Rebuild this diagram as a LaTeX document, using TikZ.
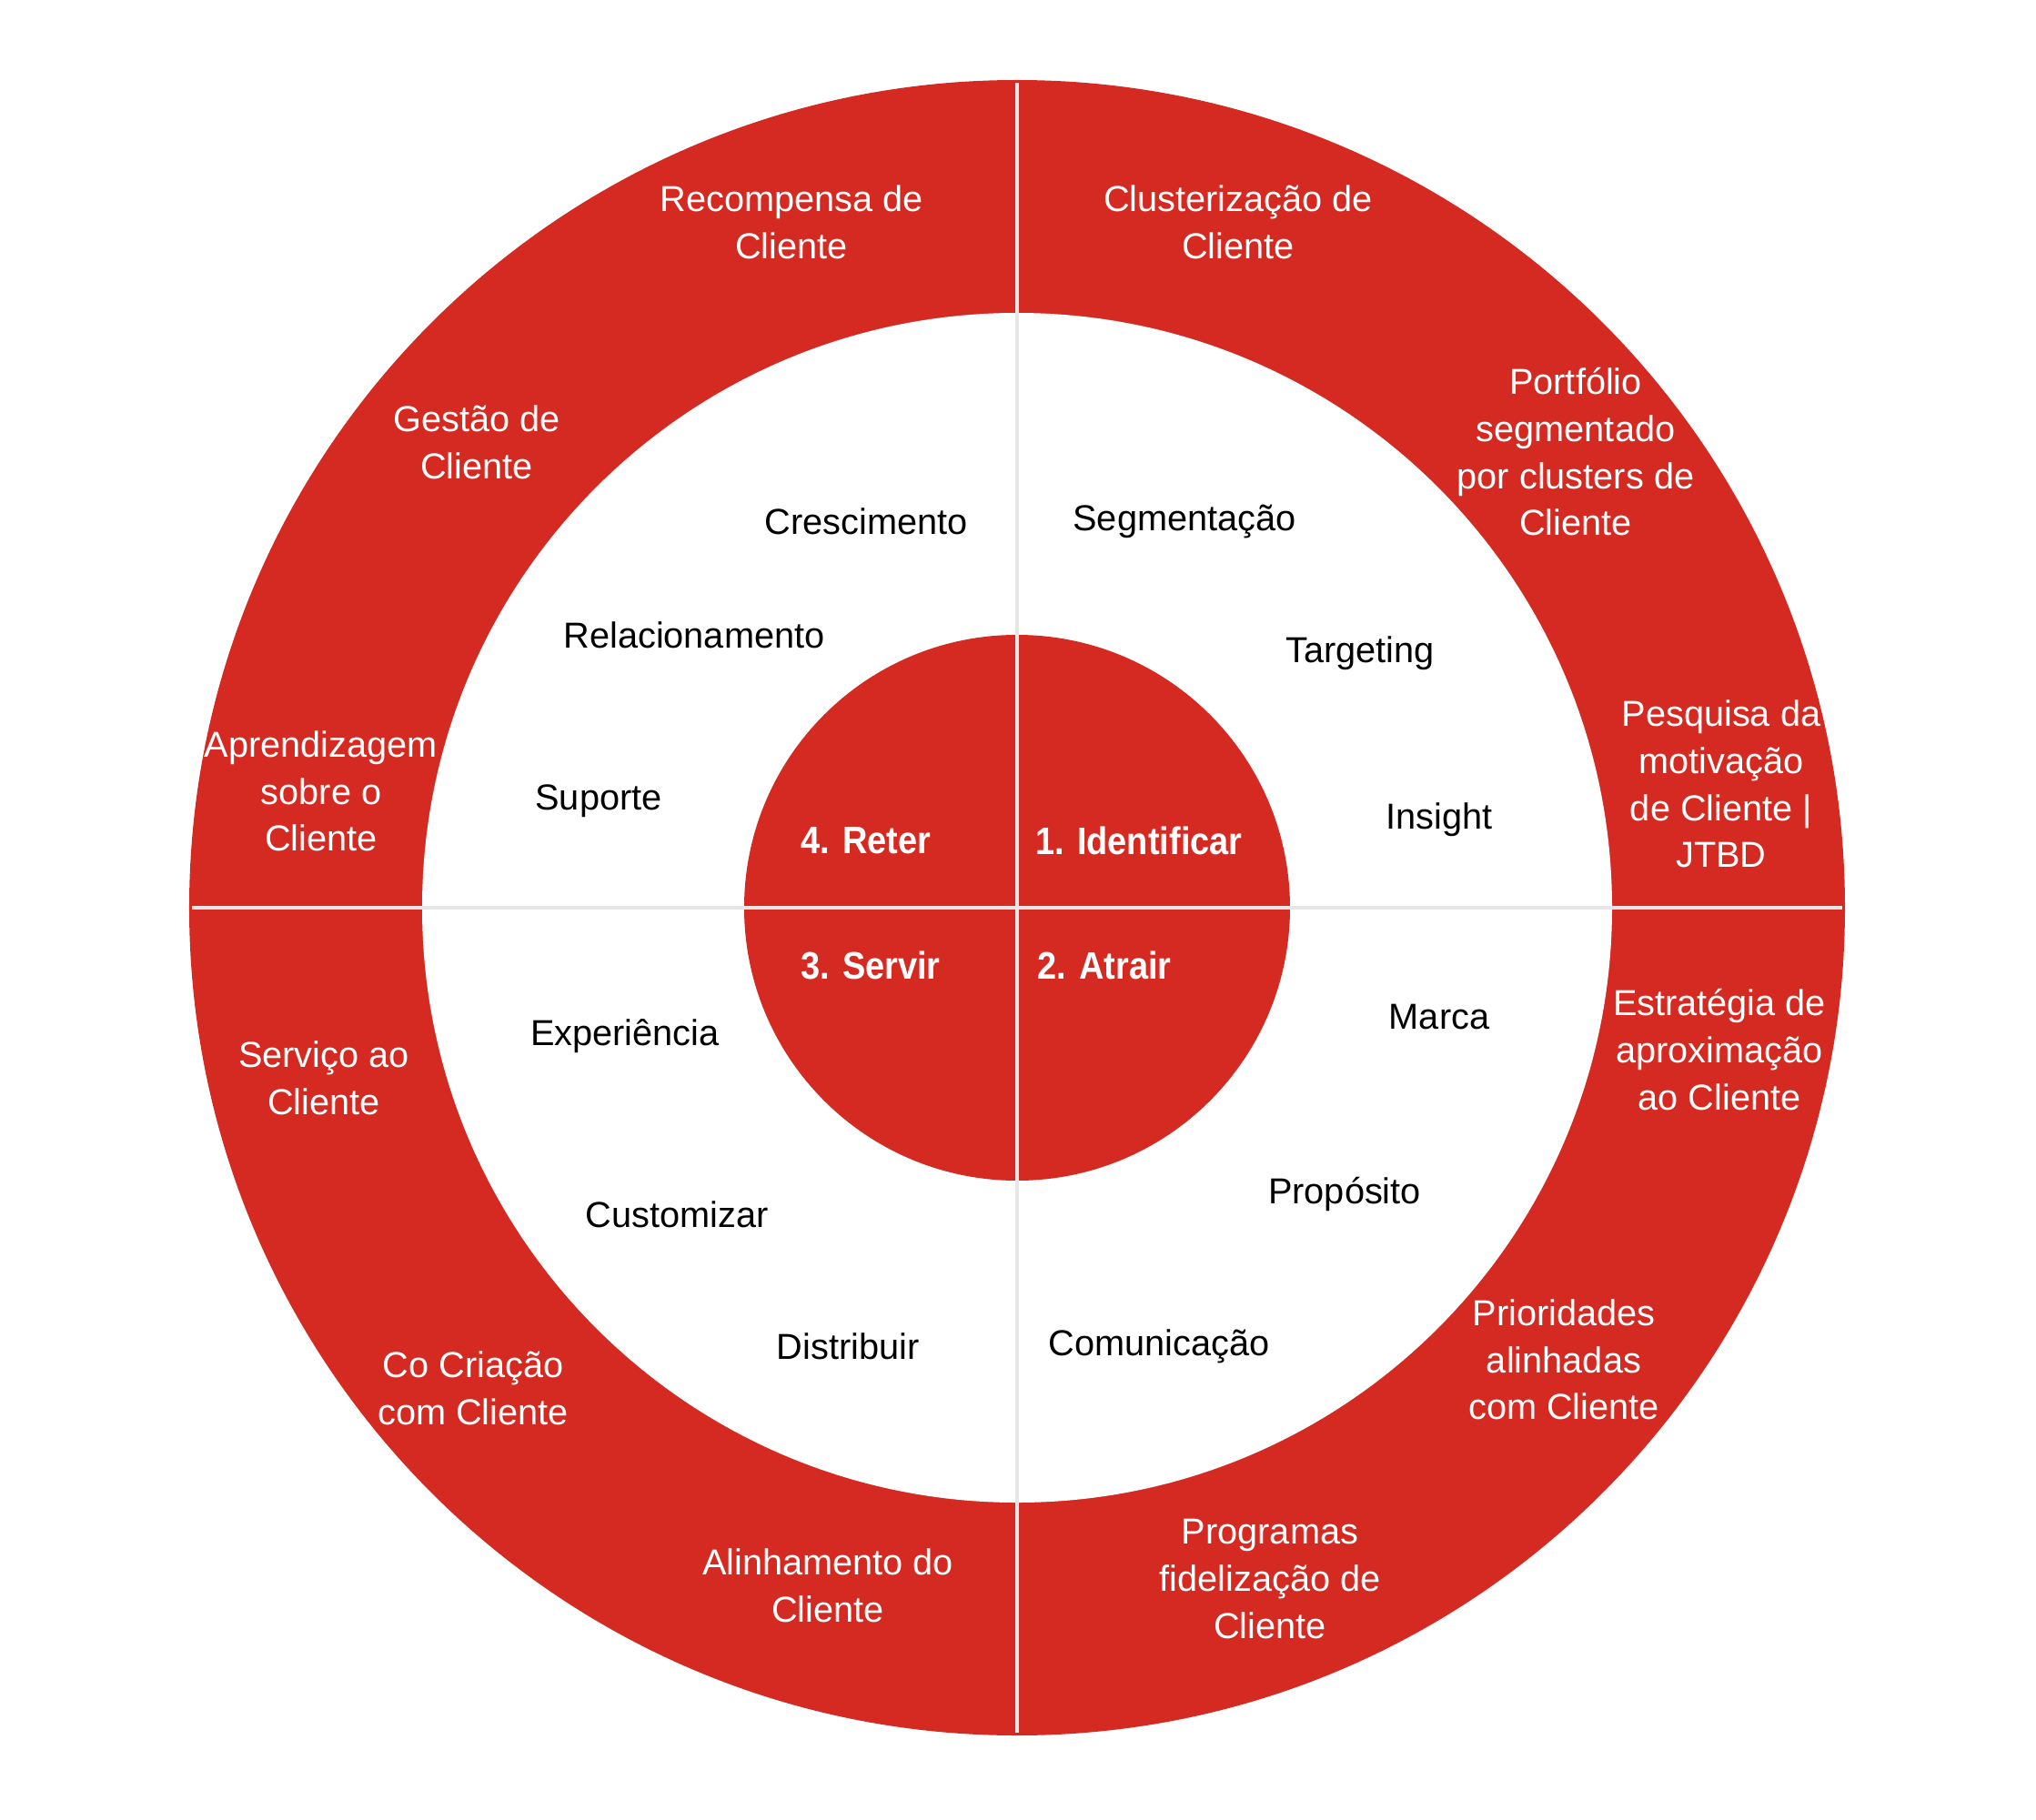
\documentclass[tikz,border=0pt]{standalone}
\usepackage{fontspec}
\setmainfont{Liberation Sans}
\newfontfamily\phasefont[FakeStretch=0.9]{Liberation Sans}
\usetikzlibrary{positioning}
\definecolor{ringred}{HTML}{D42A22}
\definecolor{divgray}{HTML}{E6E6E6}

\begin{document}
\begin{tikzpicture}[
    outer/.style={text=white,align=center,font=\fontsize{11.3}{14.7}\selectfont},
    inner/.style={text=black,align=center,font=\fontsize{11.3}{14.7}\selectfont},
    phase/.style={text=white,font=\phasefont\bfseries\fontsize{12}{14}\selectfont},
    divider/.style={draw=divgray,line width=1.1pt}
    ]
    \useasboundingbox (-11.18,-10.02) rectangle (11.20,9.98);

    % rings
    \fill[ringred] (0,0) circle (9.10);
    \fill[white] (0,0) circle (6.54);
    \fill[ringred] (0,0) circle (3.00);

    \coordinate (top) at (0,9.07);
    \coordinate (bottom) at (0,-9.07);
    \coordinate (left) at (-9.07,0);
    \coordinate (right) at (9.07,0);
    \draw[divider] (top)--(bottom);
    \draw[divider] (left)--(right);

    % phases
    \node[phase] (identificar) at (1.34,0.74) {1. Identificar};
    \node[phase] (atrair) at (0.96,-0.63) {2. Atrair};
    \node[phase] (servir) at (-1.61,-0.63) {3. Servir};
    \node[phase] (reter) at (-1.66,0.74) {4. Reter};

    % inner ring
    \node[inner] (segmentacao) at (1.84,4.25) {Segmentação};
    \node[inner] (targeting) at (3.77,2.80) {Targeting};
    \node[inner] (insight) at (4.64,0.97) {Insight};
    \node[inner] (marca) at (4.64,-1.20) {Marca};
    \node[inner] (proposito) at (3.60,-3.15) {Propósito};
    \node[inner] (comunicacao) at (1.56,-4.82) {Comunicação};
    \node[inner] (distribuir) at (-1.86,-4.82) {Distribuir};
    \node[inner] (customizar) at (-3.74,-3.37) {Customizar};
    \node[inner] (experiencia) at (-4.31,-1.41) {Experiência};
    \node[inner] (suporte) at (-4.60,1.17) {Suporte};
    \node[inner] (relacionamento) at (-3.55,3.00) {Relacionamento};
    \node[inner] (crescimento) at (-1.66,4.25) {Crescimento};

    % outer ring
    \node[outer] (clusterizacao) at (2.43,7.54) {Clusterização de\\Cliente};
    \node[outer] (portfolio) at (6.14,5.01) {Portfólio\\segmentado\\por clusters de\\Cliente};
    \node[outer] (pesquisa) at (7.74,1.36) {Pesquisa da\\motivação\\de Cliente |\\JTBD};
    \node[outer] (estrategia) at (7.72,-1.56) {Estratégia de\\aproximação\\ao Cliente};
    \node[outer] (prioridades) at (6.01,-4.97) {Prioridades\\alinhadas\\com Cliente};
    \node[outer] (programas) at (2.78,-7.38) {Programas\\fidelização de\\Cliente};
    \node[outer] (alinhamento) at (-2.08,-7.45) {Alinhamento do\\Cliente};
    \node[outer] (cocriacao) at (-5.98,-5.28) {Co Criação\\com Cliente};
    \node[outer] (servico) at (-7.62,-1.87) {Serviço ao\\Cliente};
    \node[outer] (aprendizagem) at (-7.65,1.28) {Aprendizagem\\sobre o\\Cliente};
    \node[outer] (gestao) at (-5.94,5.12) {Gestão de\\Cliente};
    \node[outer] (recompensa) at (-2.48,7.54) {Recompensa de\\Cliente};

  \end{tikzpicture}
\end{document}
